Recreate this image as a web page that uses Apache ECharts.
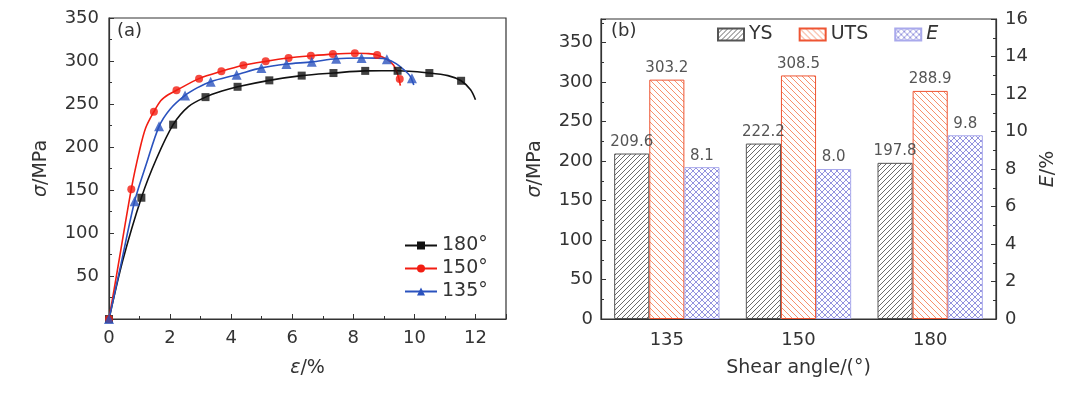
<!DOCTYPE html>
<html>
<head>
<meta charset="utf-8">
<script src="https://cdn.jsdelivr.net/npm/echarts@6/dist/echarts.min.js"></script>
<style>
  html, body { margin: 0; padding: 0; background: #fff; }
  #main { width: 1080px; height: 396px; }
</style>
</head>
<body>
<div id="main"></div>
<script>
// (a) stress-strain curves, [strain %, stress MPa]
var curve180 = [[0,0],[0.45,68],[1.06,141],[1.55,186],[2.1,226],[2.6,247],[3.16,258],[3.7,265],[4.21,270],[5.25,277.5],[6.31,283],[7.35,286],[8.39,288.5],[9.45,288.6],[10.49,286],[11.1,283],[11.53,277],[11.84,266.5],[12.0,255]];
var marks180 = [[0,0],[1.06,141],[2.1,226],[3.16,258],[4.21,270],[5.25,277.5],[6.31,283],[7.35,286],[8.39,288.5],[9.45,288.6],[10.49,286],[11.53,277]];
var curve150 = [[0,0],[0.3,62],[0.73,151],[1.0,196],[1.2,222],[1.47,241],[1.7,254],[1.95,261],[2.21,266],[2.95,279.5],[3.68,288],[4.4,295],[5.13,299.6],[5.88,303.5],[6.61,306],[7.33,308],[8.05,309],[8.5,308.6],[8.78,307],[9.1,302],[9.32,295],[9.45,285],[9.54,271.5]];
var marks150 = [[0,0],[0.73,151],[1.47,241],[2.21,266],[2.95,279.5],[3.68,288],[4.4,295],[5.13,299.6],[5.88,303.5],[6.61,306],[7.33,308],[8.05,309],[8.78,307],[9.52,279]];
var curve135 = [[0,0],[0.4,65],[0.84,137],[1.23,181],[1.64,224],[2.0,244],[2.49,260],[2.9,269],[3.33,276],[4.18,284],[4.99,292],[5.81,296.5],[6.64,299],[7.44,302.7],[8.27,303.5],[8.8,303.4],[9.1,302],[9.4,297],[9.65,290],[9.85,283],[9.98,272]];
var marks135 = [[0,0],[0.84,137],[1.64,224],[2.49,260],[3.33,276],[4.18,284],[4.99,292],[5.81,296.5],[6.64,299],[7.44,302.7],[8.27,303.5],[9.1,302],[9.92,280]];

// (b) bar chart
var angles = ['135', '150', '180'];
var ysVals = [209.6, 222.2, 197.8];
var utsVals = [303.2, 308.5, 288.9];
var eVals = [8.1, 8.0, 9.8];

var FONT = 'DejaVu Sans';
var TXT = '#333';

function hatch(color, dir, s) {
  var c = document.createElement('canvas');
  c.width = s; c.height = s;
  var g = c.getContext('2d');
  g.fillStyle = '#fff';
  g.fillRect(0, 0, s, s);
  g.strokeStyle = color;
  g.lineWidth = 1;
  g.beginPath();
  if (dir.indexOf('/') >= 0) {
    g.moveTo(-1, s + 1); g.lineTo(s + 1, -1);
    g.moveTo(-1, 1); g.lineTo(1, -1);
    g.moveTo(s - 1, s + 1); g.lineTo(s + 1, s - 1);
  }
  if (dir.indexOf('\\') >= 0) {
    g.moveTo(-1, -1); g.lineTo(s + 1, s + 1);
    g.moveTo(s - 1, -1); g.lineTo(s + 1, 1);
    g.moveTo(-1, s - 1); g.lineTo(1, s + 1);
  }
  g.stroke();
  return { image: c, repeat: 'repeat' };
}

var axisLine = { show: true, onZero: false, lineStyle: { color: TXT, width: 1.2 } };
var tick = { show: true, inside: true, length: 5, lineStyle: { color: TXT } };
var minor = { show: true, splitNumber: 2, length: 3, lineStyle: { color: TXT } };
var lbl = { color: TXT, fontFamily: FONT, fontSize: 18 };
var nameStyle = { color: TXT, fontFamily: FONT, fontSize: 19, rich: { i: { fontStyle: 'italic', fontFamily: FONT, fontSize: 19, color: TXT } } };

function lineSeries(name, data, color, sym) {
  return {
    name: name, type: 'line', data: data, xAxisIndex: 0, yAxisIndex: 0,
    smooth: 0.3, showSymbol: false, symbol: sym, symbolSize: 9,
    lineStyle: { color: color, width: 1.6 }, itemStyle: { color: color },
    z: 2, animation: false
  };
}
function markSeries(data, color, sym) {
  return {
    type: 'scatter', data: data, xAxisIndex: 0, yAxisIndex: 0,
    symbol: sym, symbolSize: sym === 'triangle' ? 10 : 8, itemStyle: { color: color },
    z: 3, animation: false
  };
}
function barLabel(p) { return p.value.toFixed(1); }

var chart = echarts.init(document.getElementById('main'));
chart.setOption({
  backgroundColor: '#fff',
  animation: false,
  textStyle: { fontFamily: FONT },
  graphic: [
    { type: 'text', left: 117, top: 22, style: { text: '(a)', font: '18px "DejaVu Sans"', fill: TXT } },
    { type: 'text', left: 611, top: 22, style: { text: '(b)', font: '18px "DejaVu Sans"', fill: TXT } }
  ],
  grid: [
    { left: 109, right: 574, top: 18, bottom: 77, show: true, borderColor: TXT, borderWidth: 1.2 },
    { left: 601, right: 84, top: 19, bottom: 77, show: true, borderColor: TXT, borderWidth: 1.2 }
  ],
  legend: [
    {
      orient: 'vertical', left: 404, top: 236, padding: 0, itemWidth: 32, itemHeight: 10, itemGap: 4,
      data: ['180°', '150°', '135°'],
      textStyle: { color: TXT, fontFamily: FONT, fontSize: 19 }
    },
    {
      orient: 'horizontal', left: 717, top: 25, padding: 0, itemWidth: 26, itemHeight: 12, itemGap: 26,
      icon: 'rect',
      data: ['YS', 'UTS', 'E'],
      formatter: function (n) { return n === 'E' ? '{i|E}' : n; },
      textStyle: { color: TXT, fontFamily: FONT, fontSize: 19, rich: { i: { fontStyle: 'italic', fontFamily: FONT, fontSize: 19, color: TXT } } }
    }
  ],
  xAxis: [
    {
      type: 'value', gridIndex: 0, min: 0, max: 13, interval: 2,
      name: '{i|ε}/%', nameLocation: 'middle', nameGap: 40, nameTextStyle: nameStyle,
      axisLine: axisLine, axisTick: tick, minorTick: minor, splitLine: { show: false },
      axisLabel: Object.assign({ margin: 10, showMaxLabel: false, formatter: function (v) { return v % 2 ? '' : v; } }, lbl)
    },
    {
      type: 'category', gridIndex: 1, data: angles,
      name: 'Shear angle/(°)', nameLocation: 'middle', nameGap: 40, nameTextStyle: nameStyle,
      axisLine: axisLine, axisTick: { show: false }, splitLine: { show: false },
      axisLabel: Object.assign({ margin: 12 }, lbl)
    }
  ],
  yAxis: [
    {
      type: 'value', gridIndex: 0, min: 0, max: 350, interval: 50,
      name: '{i|σ}/MPa', nameLocation: 'middle', nameGap: 58, nameTextStyle: nameStyle,
      axisLine: axisLine, axisTick: tick, minorTick: minor, splitLine: { show: false },
      axisLabel: Object.assign({ margin: 10, formatter: function (v) { return v === 0 ? '' : v; } }, lbl)
    },
    {
      type: 'value', gridIndex: 1, min: 0, max: 380, interval: 50,
      name: '{i|σ}/MPa', nameLocation: 'middle', nameGap: 56, nameTextStyle: nameStyle,
      axisLine: axisLine, axisTick: tick, minorTick: minor, splitLine: { show: false },
      axisLabel: Object.assign({ margin: 8, formatter: function (v) { return v % 50 ? '' : v; } }, lbl)
    },
    {
      type: 'value', gridIndex: 1, position: 'right', min: 0, max: 16, interval: 2,
      name: '{i|E}/%', nameLocation: 'middle', nameGap: 43, nameRotate: 90, nameTextStyle: nameStyle,
      axisLine: axisLine, axisTick: tick, minorTick: minor, splitLine: { show: false },
      axisLabel: Object.assign({ margin: 9 }, lbl)
    }
  ],
  series: [
    lineSeries('180°', curve180, '#111111', 'rect'),
    lineSeries('150°', curve150, '#f21d12', 'circle'),
    lineSeries('135°', curve135, '#2a52be', 'triangle'),
    markSeries(marks180, '#111111', 'rect'),
    markSeries(marks150, '#f21d12', 'circle'),
    markSeries(marks135, '#2a52be', 'triangle'),
    {
      name: 'YS', type: 'bar', xAxisIndex: 1, yAxisIndex: 1, data: ysVals,
      barGap: '0%', barCategoryGap: '20%',
      itemStyle: { color: hatch('#6a6a6a', '/', 5), borderColor: '#555', borderWidth: 1 },
      label: { show: true, position: 'top', distance: 4, color: '#555', fontFamily: FONT, fontSize: 15, formatter: barLabel }
    },
    {
      name: 'UTS', type: 'bar', xAxisIndex: 1, yAxisIndex: 1, data: utsVals,
      barGap: '0%', barCategoryGap: '20%',
      itemStyle: { color: hatch('#f7916c', '\\', 6), borderColor: '#ee5533', borderWidth: 1 },
      label: { show: true, position: 'top', distance: 4, color: '#555', fontFamily: FONT, fontSize: 15, formatter: barLabel }
    },
    {
      name: 'E', type: 'bar', xAxisIndex: 1, yAxisIndex: 2, data: eVals,
      barGap: '0%', barCategoryGap: '20%',
      itemStyle: { color: hatch('#9494de', '/\\', 6), borderColor: '#a9a9ec', borderWidth: 1 },
      label: { show: true, position: 'top', distance: 4, color: '#555', fontFamily: FONT, fontSize: 15, formatter: barLabel }
    }
  ]
});
</script>
</body>
</html>
